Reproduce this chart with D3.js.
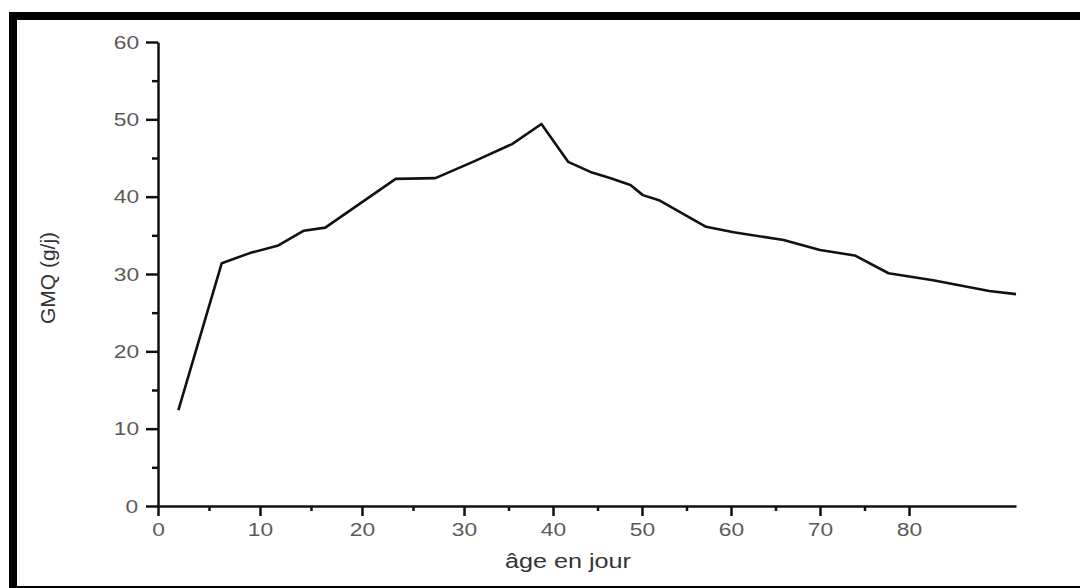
<!DOCTYPE html>
<html lang="fr">
<head>
<meta charset="UTF-8">
<title>GMQ selon l'âge</title>
<script src="https://d3js.org/d3.v7.min.js"></script>
<style>
  body { margin: 0; background: #fff; }
  svg { display: block; }
  .wide { transform-box: fill-box; transform-origin: center; transform: scaleX(1.2); }
</style>
</head>
<body>
<svg id="chart" width="1080" height="588"></svg>
<script>
// âge (jours) et gain moyen quotidien (g/j)
const ageDays = [2, 6.25, 9, 11.8, 14.3, 16.4, 23.3, 27.2, 31, 35.4, 38.7, 41.7, 44.2, 46.4, 48.7, 50.1, 52, 57.2, 60.3, 65.9, 70, 73.9, 77.7, 80.9, 83, 84];
const gmq     = [12.4, 31.4, 32.7, 33.7, 35.6, 36.0, 42.3, 42.4, 44.5, 46.8, 49.4, 44.5, 43.2, 42.4, 41.5, 40.2, 39.5, 36.1, 35.4, 34.4, 33.1, 32.4, 30.1, 29.2, 27.8, 27.4];

const xMajor = [0, 10, 20, 30, 40, 50, 60, 70, 80];
const xMinor = [5, 15, 25, 35, 45, 55, 65, 75];
const yMajor = [0, 10, 20, 30, 40, 50, 60];
const yMinor = [5, 15, 25, 35, 45, 55];

const svg = d3.select("#chart");

// cadre noir
svg.append("rect")
  .attr("x", 13).attr("y", 16)
  .attr("width", 1100).attr("height", 574)
  .attr("fill", "#fff")
  .attr("stroke", "#000")
  .attr("stroke-width", 8);

// l'axe des x de la figure n'est pas tout à fait régulier
const x = d3.scaleLinear().domain([0, 30, 80, 84]).range([158, 464, 909, 1016]);
const y = d3.scaleLinear().domain([0, 60]).range([506, 42]);

const tickFont = "'Liberation Sans', Arial, sans-serif";

// minor ticks
svg.append("g")
  .attr("transform", `translate(0,${y(0)})`)
  .call(d3.axisBottom(x).tickValues(xMinor).tickSize(5).tickFormat(""))
  .call(g => g.select(".domain").remove())
  .selectAll("line").attr("stroke", "#111").attr("stroke-width", 2.5);

svg.append("g")
  .attr("transform", `translate(${x(0)},0)`)
  .call(d3.axisLeft(y).tickValues(yMinor).tickSize(6).tickFormat(""))
  .call(g => g.select(".domain").remove())
  .selectAll("line").attr("stroke", "#111").attr("stroke-width", 2.5);

// major ticks + labels
const xAxis = svg.append("g")
  .attr("transform", `translate(0,${y(0)})`)
  .call(d3.axisBottom(x).tickValues(xMajor).tickSize(10).tickSizeOuter(0).tickPadding(7));

const yAxis = svg.append("g")
  .attr("transform", `translate(${x(0)},0)`)
  .call(d3.axisLeft(y).tickValues(yMajor).tickSize(12).tickSizeOuter(0).tickPadding(9));

[xAxis, yAxis].forEach(ax => {
  ax.select(".domain").attr("stroke", "#111").attr("stroke-width", 2.5);
  ax.selectAll(".tick line").attr("stroke", "#111").attr("stroke-width", 2.5);
  ax.selectAll(".tick text")
    .attr("class", "wide")
    .attr("fill", "#5a5a5a")
    .style("font-family", tickFont)
    .style("font-size", "19px");
});

// courbe
const line = d3.line().x((d, i) => x(ageDays[i])).y(d => y(d));
svg.append("path")
  .datum(gmq)
  .attr("d", line)
  .attr("fill", "none")
  .attr("stroke", "#111")
  .attr("stroke-width", 2.6)
  .attr("stroke-linejoin", "round");

// titres des axes
svg.append("text")
  .attr("transform", "translate(55,278) rotate(-90)")
  .attr("text-anchor", "middle")
  .attr("fill", "#333")
  .style("font-family", tickFont)
  .style("font-size", "21px")
  .text("GMQ (g/j)");

svg.append("text")
  .attr("class", "wide")
  .attr("x", 568).attr("y", 568)
  .attr("text-anchor", "middle")
  .attr("fill", "#333")
  .style("font-family", tickFont)
  .style("font-size", "21px")
  .text("âge en jour");
</script>
</body>
</html>
